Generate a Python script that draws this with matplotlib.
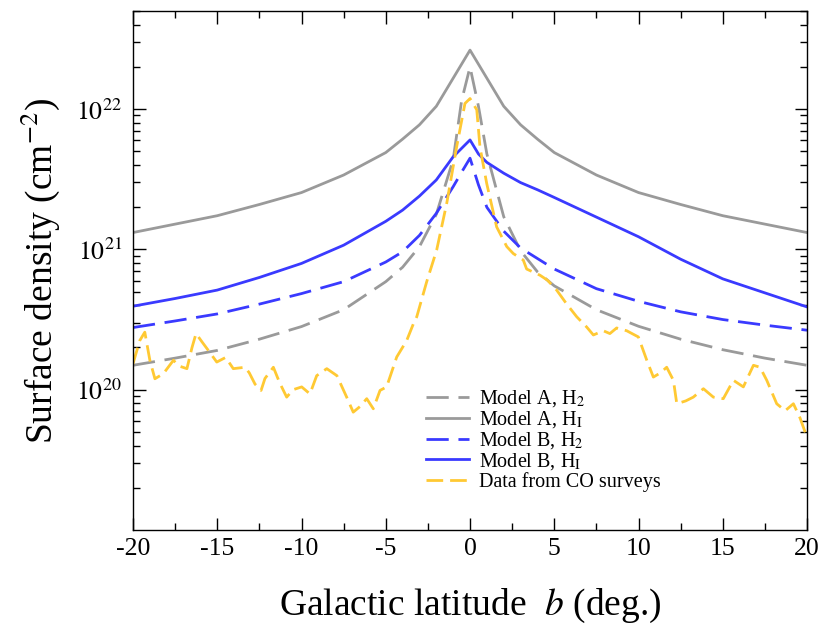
import numpy as np
import matplotlib
matplotlib.use("Agg")
import matplotlib.pyplot as plt
from matplotlib.ticker import FixedLocator, LogLocator, NullFormatter, FixedFormatter

plt.rcParams["font.family"] = ["Liberation Serif", "DejaVu Serif"]
plt.rcParams["mathtext.fontset"] = "stix"
plt.rcParams["lines.scale_dashes"] = False

# galactic latitude grid for the model curves (deg)
b_model = [-20, -17.5, -15, -12.5, -10, -7.5, -5, -4, -3, -2, -1, -0.5, 0,
           0.5, 1, 2, 3, 4, 5, 7.5, 10, 12.5, 15, 17.5, 20]

# log10 surface density (cm^-2)
log_a_h2 = [20.174, 20.225, 20.28, 20.36, 20.45, 20.57, 20.77, 20.873, 21.02, 21.25, 21.64, 22.06, 22.30,
            22.02, 21.68, 21.233, 20.99, 20.84, 20.74, 20.57, 20.452, 20.36, 20.285, 20.225, 20.174]
log_a_hi = [21.12, 21.18, 21.24, 21.32, 21.405, 21.53, 21.69, 21.786, 21.888, 22.02, 22.22, 22.32, 22.42,
            22.32, 22.22, 22.02, 21.888, 21.786, 21.69, 21.53, 21.405, 21.32, 21.24, 21.18, 21.12]
log_b_h2 = [20.443, 20.49, 20.54, 20.61, 20.685, 20.77, 20.91, 20.983, 21.10, 21.257, 21.447, 21.55, 21.65,
            21.46, 21.30, 21.13, 21.01, 20.935, 20.86, 20.72, 20.63, 20.555, 20.50, 20.46, 20.424]
log_b_hi = [20.595, 20.65, 20.71, 20.80, 20.90, 21.03, 21.20, 21.28, 21.38, 21.495, 21.66, 21.72, 21.78,
            21.68, 21.62, 21.543, 21.476, 21.425, 21.37, 21.23, 21.09, 20.93, 20.79, 20.69, 20.59]

# CO survey data
b_co = [-20, -19.6, -19.3, -19.0, -18.7, -18.2, -17.6, -17.3, -16.8, -16.5, -16.26, -15.9, -15.53,
        -15.03, -14.5, -14.05, -13.35, -13.1, -12.76, -12.4, -12.17, -11.67, -11.3, -10.88, -10.5,
        -9.99, -9.5, -9.1, -8.5, -7.9, -7.32, -6.93, -6.53, -6.13, -5.74, -5.34, -4.95, -4.35, -3.76,
        -3.36, -3.16, -2.57, -1.98, -1.38, -0.79, -0.3, 0,
        0.4, 0.59, 0.99, 1.58, 2.18, 2.57, 3.16, 3.36, 4.15, 4.6, 5.14, 5.74, 6.33, 6.92, 7.32, 7.91,
        8.3, 8.7, 9.3, 9.99, 10.49, 10.88, 11.3, 11.67, 12.07, 12.27, 12.8, 13.25, 13.85, 14.44, 15.03,
        15.63, 16.22, 16.82, 17.21, 17.61, 18.2, 18.7, 19.19, 19.58, 20]
log_co = [20.185, 20.35, 20.41, 20.21, 20.078, 20.114, 20.21, 20.17, 20.15, 20.30, 20.40, 20.34, 20.28,
          20.197, 20.23, 20.15, 20.16, 20.12, 20.04, 19.995, 20.08, 20.16, 20.05, 19.947, 20.0,
          20.02, 19.97, 20.10, 20.15, 20.10, 19.947, 19.84, 19.88, 19.936, 19.864, 19.995, 20.02, 20.233, 20.35,
          20.47, 20.52, 20.77, 20.995, 21.33, 21.733, 22.04, 22.075,
          21.995, 21.73, 21.47, 21.16, 21.02, 20.97, 20.924, 20.86, 20.816, 20.78, 20.71, 20.61, 20.52, 20.447, 20.39, 20.42,
          20.40, 20.44, 20.42, 20.376, 20.21, 20.09, 20.12, 20.16, 20.067, 19.9, 19.92, 19.947, 20.007, 19.947, 19.936,
          20.067, 20.02, 20.174, 20.16, 20.067, 19.9, 19.85, 19.9, 19.80, 19.66]

gray = "#9a9a9a"
blue = "#3a3aff"
yellow = "#ffc933"

fig = plt.figure(figsize=(8.18, 6.24), dpi=100)
ax = fig.add_axes([0.1626, 0.1506, 0.824, 0.8318])

ax.plot(b_model, 10 ** np.array(log_a_h2), color=gray, lw=2.0, dashes=(16, 7), label="Model A, H$_2$")
ax.plot(b_model, 10 ** np.array(log_a_hi), color=gray, lw=2.0, label=r"Model A, H$_{\rm I}$")
ax.plot(b_model, 10 ** np.array(log_b_h2), color=blue, lw=2.0, dashes=(16, 7), label="Model B, H$_2$")
ax.plot(b_model, 10 ** np.array(log_b_hi), color=blue, lw=2.0, label=r"Model B, H$_{\rm I}$")
ax.plot(b_co, 10 ** np.array(log_co), color=yellow, lw=2.0, dashes=(12, 5), label="Data from CO surveys")

ax.set_yscale("log")
ax.set_xlim(-20, 20)
ax.set_ylim(1e19, 5e22)

ax.set_xticks(np.arange(-20, 21, 5))
ax.set_xticks(np.arange(-20, 21, 2.5), minor=True)
ax.set_xticklabels([str(v) for v in range(-20, 21, 5)])

ax.yaxis.set_major_locator(FixedLocator([1e20, 1e21, 1e22]))
ax.yaxis.set_major_formatter(FixedFormatter(["$10^{20}$", "$10^{21}$", "$10^{22}$"]))
ax.yaxis.set_minor_locator(LogLocator(base=10, subs=np.arange(2, 10)))
ax.yaxis.set_minor_formatter(NullFormatter())

ax.tick_params(which="both", direction="in", top=True, right=True, width=1.0, labelsize=18.5)
ax.tick_params(which="major", length=9)
ax.tick_params(which="minor", length=5)
ax.tick_params(axis="x", pad=6)
ax.tick_params(axis="y", pad=8)
for s in ax.spines.values():
    s.set_linewidth(1.0)

ax.set_xlabel("Galactic latitude  $b$ (deg.)", fontsize=27, labelpad=19)
ax.set_ylabel("Surface density (cm$^{-2}$)", fontsize=27, labelpad=10)

ax.legend(loc="upper left", bbox_to_anchor=(0.435, 0.273), frameon=False, fontsize=14.5,
          handlelength=2.1, handletextpad=0.5, labelspacing=0.0, borderpad=0, borderaxespad=0)

fig.savefig("out.png", dpi=100)
